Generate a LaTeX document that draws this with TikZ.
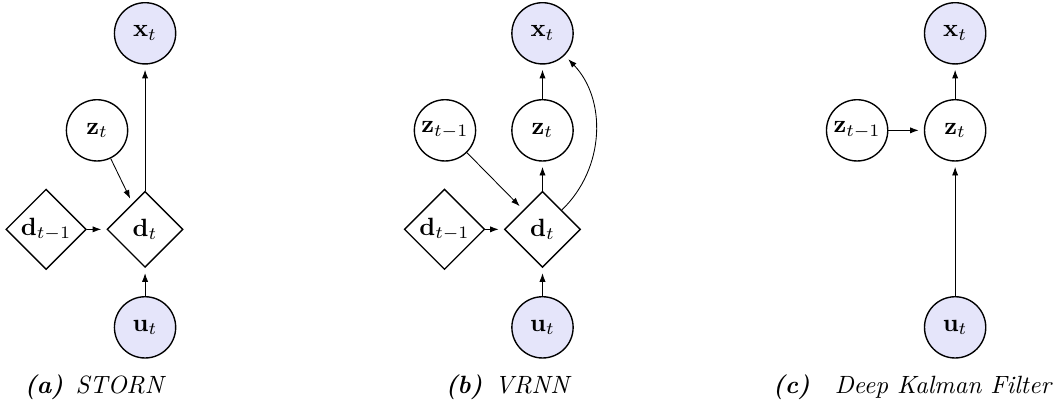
\documentclass[tikz,border=0pt]{standalone}
\usetikzlibrary{shapes.geometric,arrows.meta}
\definecolor{obsfill}{RGB}{229,229,250}
\newcommand{\sclab}[1]{\scalebox{1.45}{#1}}
\begin{document}
\begin{tikzpicture}
[latent/.style={shape=circle,draw,line width=0.8pt,minimum size=1.25cm,inner sep=0pt},
 observed/.style={latent,fill=obsfill},
 determ/.style={shape=diamond,draw,line width=0.8pt,aspect=1,minimum size=1.55cm,inner sep=1pt},
 arr/.style={-{Latex[length=5pt,width=3.6pt]},line width=0.5pt,shorten >=3pt},
 caption/.style={font=\itshape}]
\useasboundingbox (0,0) rectangle (21.63,8.37);
% (a) STORN
\path ( 2.96,7.69) node (xa) [observed] {\sclab{$\mathbf{x}_t$}}
( 1.98,5.71) node (za) [latent] {\sclab{$\mathbf{z}_t$}}
( 2.96,3.69) node (da) [determ] {\sclab{$\mathbf{d}_t$}}
( 0.94,3.69) node (dpa) [determ] {\sclab{$\mathbf{d}_{t-1}$}}
( 2.96,1.69) node (ua) [observed] {\sclab{$\mathbf{u}_t$}}
( 1.92,0.47) node (capa) [caption] {\sclab{\textbf{(a)}\enspace STORN}};
\draw [arr] (dpa) -- (da);
\draw [arr] (ua) -- (da);
\draw [arr] (za) -- (da);
\draw [arr] (da) -- (xa);
% (b) VRNN
\path (11.07,7.69) node (xb) [observed] {\sclab{$\mathbf{x}_t$}}
( 9.08,5.71) node (zpb) [latent] {\sclab{$\mathbf{z}_{t-1}$}}
(11.07,5.71) node (zb) [latent] {\sclab{$\mathbf{z}_t$}}
(11.07,3.69) node (db) [determ] {\sclab{$\mathbf{d}_t$}}
( 9.07,3.69) node (dpb) [determ] {\sclab{$\mathbf{d}_{t-1}$}}
(11.07,1.69) node (ub) [observed] {\sclab{$\mathbf{u}_t$}}
(10.35,0.47) node (capb) [caption] {\sclab{\textbf{(b)}\enspace VRNN}};
\draw [arr] (dpb) -- (db);
\draw [arr] (ub) -- (db);
\draw [arr] (zpb) -- (db);
\draw [arr] (db) -- (zb);
\draw [arr] (zb) -- (xb);
\draw [arr] (db) to [bend right=45] (xb);
% (c) Deep Kalman Filter
\path (19.49,7.69) node (xc) [observed] {\sclab{$\mathbf{x}_t$}}
(17.49,5.71) node (zpc) [latent] {\sclab{$\mathbf{z}_{t-1}$}}
(19.49,5.71) node (zc) [latent] {\sclab{$\mathbf{z}_t$}}
(19.49,1.69) node (uc) [observed] {\sclab{$\mathbf{u}_t$}}
(18.61,0.47) node (capc) [caption] {\sclab{\textbf{(c)}\quad Deep Kalman Filter}};
\draw [arr] (zpc) -- (zc);
\draw [arr] (uc) -- (zc);
\draw [arr] (zc) -- (xc);
\end{tikzpicture}
\end{document}
